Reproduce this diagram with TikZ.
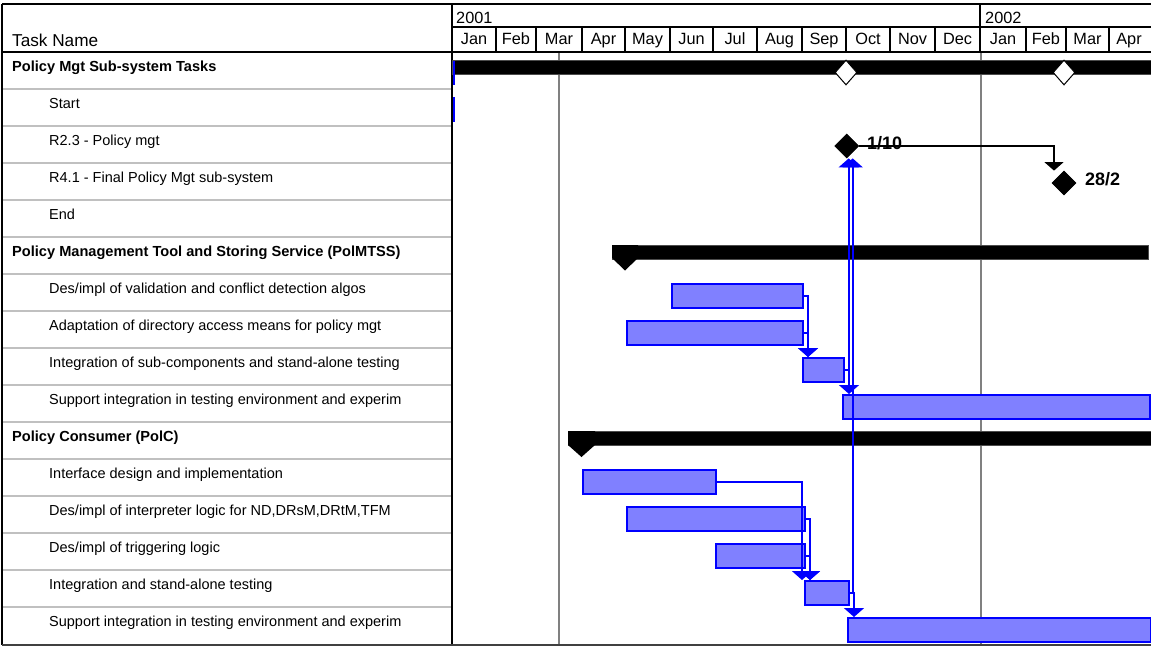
\documentclass[tikz,border=0pt]{standalone}
\usepackage{fontspec}
\setmainfont{Liberation Sans}
\usetikzlibrary{shapes.geometric,arrows.meta,calc}

\definecolor{barfill}{HTML}{8080FF}
\definecolor{linkblue}{HTML}{0000FF}
\definecolor{gridgray}{HTML}{808080}
\definecolor{rowgray}{HTML}{C0C0C0}

\tikzset{
  tasklbl/.style={anchor=base west, inner sep=0pt, font=\fontsize{14.5}{17}\selectfont},
  grouplbl/.style={anchor=base west, inner sep=0pt, font=\bfseries\fontsize{14.6}{17}\selectfont},
  monthlbl/.style={anchor=base, inner sep=0pt, font=\fontsize{16.3}{18}\selectfont},
  yearlbl/.style={anchor=base west, inner sep=0pt, font=\fontsize{16.3}{18}\selectfont},
  hdrlbl/.style={anchor=base west, inner sep=0pt, font=\fontsize{17.2}{19}\selectfont},
  datelbl/.style={anchor=base west, inner sep=0pt, font=\bfseries\fontsize{18}{20}\selectfont},
  taskbar/.style={draw=linkblue, fill=barfill, line width=1.5pt, anchor=north west,
                  minimum height=24pt, inner sep=0pt},
  sumbar/.style={fill=black, draw=black!70, line width=0.6pt, anchor=north west,
                 minimum height=14pt, inner sep=0pt},
  milestone/.style={diamond, aspect=1, fill=black, draw=black, line width=0.8pt,
                    minimum width=24pt, minimum height=24pt, inner sep=0pt},
  hollowms/.style={diamond, aspect=1, fill=white, draw=black, line width=1pt,
                   minimum width=22pt, minimum height=25pt, inner sep=0pt},
  blink/.style={draw=linkblue, line width=1.7pt,
                -{Triangle[width=20pt 0 0, length=9pt 0 0]}},
  klink/.style={draw=black, line width=1.4pt,
                -{Triangle[width=19pt 0 0, length=8.5pt 0 0]}},
  rowsep/.style={draw=rowgray, line width=1.5pt},
  gridline/.style={draw=gridgray, line width=1.5pt},
  frame/.style={draw=black, line width=1.5pt}
}

% draws a task bar from x #2 to x #3 with its top edge at y #4
\newcommand\ganttbar[4]{\node[taskbar, minimum width={#3-#2}] (#1) at (#2,#4) {};}
% draws a summary bar from x #2 to x #3 with its top edge at y #4
\newcommand\ganttsum[4]{\node[sumbar, minimum width={#3-#2}] (#1) at (#2,#4) {};}

\begin{document}
\begin{tikzpicture}[x=1pt, y=-1pt]
\useasboundingbox (0,0) rectangle (1151,646);

% ---- time grid lines (drawn first, bars go over them)
\draw[gridline] (559,52) -- (559,645);
\draw[gridline] (981,52) -- (981,645);

% ---- row separators of the task table
\foreach \i in {1,...,15}
  \draw[rowsep] (2,{52+37*\i}) -- (452,{52+37*\i});

% ---- frame and header
\draw[frame] (2,4) -- (1151,4);
\draw[frame] (2,4) -- (2,645);
\draw[frame] (452,4) -- (452,645);
\draw[frame] (2,52) -- (1151,52);
\draw[draw=black, line width=1.2pt] (452,27) -- (1151,27);
\draw[frame] (980,4) -- (980,27);
\draw[draw=black!75, line width=1.5pt] (2,645) -- (1151,645);

\foreach \x in {496,536,582,625,670,713,757,802,846,890,935,980,1026,1066,1109}
  \draw[draw=black, line width=1.2pt] (\x,27) -- (\x,52);

\foreach \c/\m [count=\i] in {474/Jan,516/Feb,559/Mar,603.5/Apr,647.5/May,691.5/Jun,
    735/Jul,779.5/Aug,824/Sep,868/Oct,912.5/Nov,957.5/Dec,1003/Jan,1046/Feb,1087.5/Mar,1129/Apr}
  \node[monthlbl] (mon\i) at (\c,44) {\m};

\node[yearlbl] (y2001) at (456,23) {2001};
\node[yearlbl] (y2002) at (985,23) {2002};
\node[hdrlbl] (taskhdr) at (12,46) {Task Name};

% ---- task names
\node[grouplbl] (t0)  at (12,71.5)  {Policy Mgt Sub-system Tasks};
\node[tasklbl]  (t1)  at (49,108.5) {Start};
\node[tasklbl]  (t2)  at (49,145.5) {R2.3 - Policy mgt};
\node[tasklbl]  (t3)  at (49,182.5) {R4.1 - Final Policy Mgt sub-system};
\node[tasklbl]  (t4)  at (49,219.5) {End};
\node[grouplbl] (t5)  at (12,256.5) {Policy Management Tool and Storing Service (PolMTSS)};
\node[tasklbl]  (t6)  at (49,293.5) {Des/impl of validation and conflict detection algos};
\node[tasklbl]  (t7)  at (49,330.5) {Adaptation of directory access means for policy mgt};
\node[tasklbl]  (t8)  at (49,367.5) {Integration of sub-components and stand-alone testing};
\node[tasklbl]  (t9)  at (49,404.5) {Support integration in testing environment and experim};
\node[grouplbl] (t10) at (12,441.5) {Policy Consumer (PolC)};
\node[tasklbl]  (t11) at (49,478.5) {Interface design and implementation};
\node[tasklbl]  (t12) at (49,515.5) {Des/impl of interpreter logic for ND,DRsM,DRtM,TFM};
\node[tasklbl]  (t13) at (49,552.5) {Des/impl of triggering logic};
\node[tasklbl]  (t14) at (49,589.5) {Integration and stand-alone testing};
\node[tasklbl]  (t15) at (49,626.5) {Support integration in testing environment and experim};

% ---- summary bars
\ganttsum{s0}{452}{1151}{60}
\ganttsum{s5}{612}{1148}{245}
\ganttsum{s10}{568}{1151}{431}
\fill[black] (612,245) -- (638,245) -- (638,258) -- (625,270.5) -- (612,258) -- cycle;
\fill[black] (568,431) -- (595,431) -- (595,445) -- (581.5,457) -- (568,445) -- cycle;

% start markers
\draw[draw=linkblue, line width=2pt] (454,61) -- (454,85);
\draw[draw=linkblue, line width=2pt] (454,97) -- (454,122);

% ---- milestones
\node[hollowms] (h1) at (846,72.5) {};
\node[hollowms] (h2) at (1064,72.5) {};
\node[milestone] (m1) at (846.7,146) {};
\node[milestone] (m2) at (1064,183) {};
\node[datelbl] (d1) at (867,149) {1/10};
\node[datelbl] (d2) at (1085,185) {28/2};

% ---- task bars
\ganttbar{b6}{671}{802}{283}
\ganttbar{b7}{626}{802}{320}
\ganttbar{b8}{802}{843}{357}
\ganttbar{b9}{842}{1149}{394}
\ganttbar{b11}{582}{715}{469}
\ganttbar{b12}{626}{804}{506}
\ganttbar{b13}{715}{804}{543}
\ganttbar{b14}{804}{848}{580}
\ganttbar{b15}{847}{1150}{617}

% ---- dependency links
\draw[klink] (m1.east) -| ([xshift=-10pt]m2.north);

\draw[blink] (b6.east) -| ([xshift=6pt]b8.north west);
\draw[blink] (b7.east) -| ([xshift=6pt]b8.north west);
\draw[blink] (b8.east) -| ([xshift=7pt]b9.north west);
\draw[blink] (b8.east) -| ([xshift=2pt]m1.south);

\draw[blink] (b11.east) -| ([xshift=-2pt]b14.north west);
\draw[blink] (b12.east) -| ([xshift=6pt]b14.north west);
\draw[blink] (b13.east) -| ([xshift=6pt]b14.north west);
\draw[blink] (b14.east) -| ([xshift=7pt]b15.north west);
\draw[blink] (b14.east) -| ([xshift=6pt]m1.south);
\end{tikzpicture}
\end{document}
